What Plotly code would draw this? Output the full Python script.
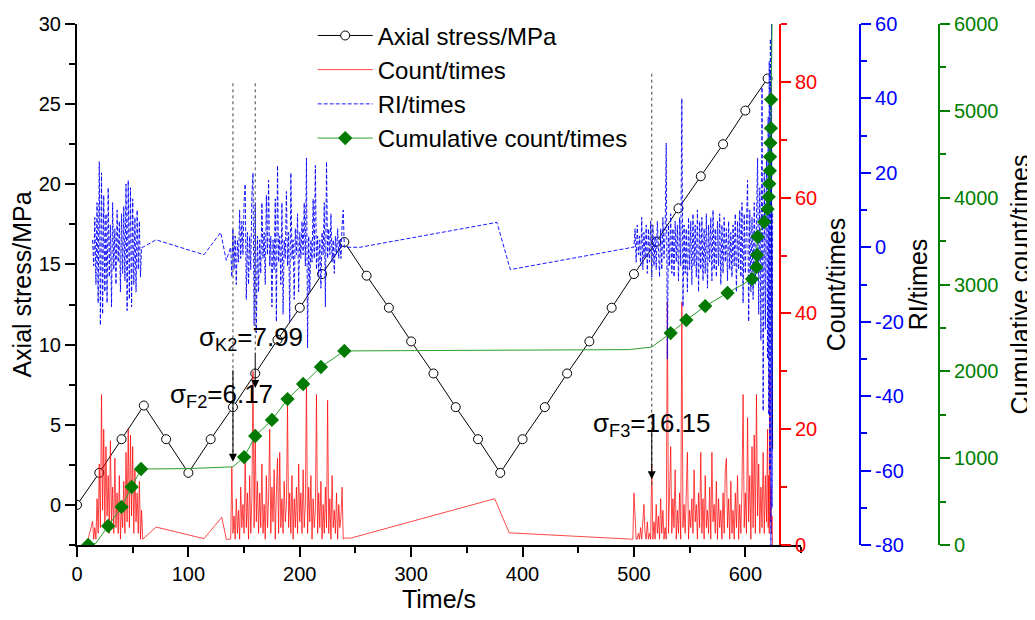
import numpy as np
import plotly.graph_objects as go

FONT = "Arial, Liberation Sans, sans-serif"

# ---- axial stress (MPa), one marker every 20 s ----
stress_t = [0, 20, 40, 60, 80, 100, 120, 140, 160, 180, 200, 220, 240, 260, 280, 300,
            320, 340, 360, 380, 400, 420, 440, 460, 480, 500, 520, 540, 560, 580, 600, 620]
stress = [0, 2.0, 4.1, 6.2, 4.1, 2.0, 4.1, 6.1, 8.2, 10.3, 12.3, 14.4, 16.4, 14.3, 12.3, 10.2,
          8.2, 6.1, 4.1, 2.0, 4.1, 6.1, 8.2, 10.2, 12.3, 14.4, 16.4, 18.5, 20.5, 22.5, 24.6, 26.6]
# failure drop at the end of the test
stress_end_t = [620, 623, 624.5]
stress_end = [26.6, 26.8, 3.5]

# ---- AE count (times) ----
count_a_start = 10          # 1 s samples
count_a = [1, 1.8, 2.5, 3.3, 4.1, 1, 3, 1, 8, 2, 14, 3, 26, 6, 20, 3, 17, 5, 12, 2, 18, 4, 10, 2,
           15, 3, 9, 2, 12, 1, 7, 3, 11, 2, 16, 4, 20, 3, 19, 5, 17, 2, 13, 4, 9, 2, 11, 1, 6]
count_gap1_t = [59, 71, 114, 130, 134, 138]
count_gap1 = [1, 3.1, 1.1, 4.8, 1, 1]
count_b_start = 139
count_b = [13.5, 2, 5, 1, 8, 2, 6, 1, 10, 3, 7, 2, 15, 3, 9, 1, 12, 2, 8, 30, 3, 20, 4, 11, 2,
           9, 3, 14, 2, 7, 1, 12, 3, 8, 20, 2, 10, 4, 13, 1, 9, 15, 2, 16, 3, 8, 2, 11, 4, 7,
           24, 3, 9, 2, 12, 1, 8, 3, 10, 2, 14, 4, 9, 2, 13, 3, 7, 28, 2, 10, 4, 12, 1, 8, 3,
           6, 26, 2, 9, 3, 11, 1, 7, 2, 10, 3, 25, 2, 8, 1, 12, 3, 6, 2, 9, 1, 7, 3, 5, 10, 1]
count_gap2_t = [240, 246, 375, 388, 470, 499]
count_gap2 = [1.2, 1.2, 8, 2.1, 1.2, 1]
count_c_start = 500
count_c = [9, 5, 1, 1, 2, 1, 3, 1, 5, 7, 2, 1, 4, 1, 2, 1, 14, 1, 4, 1, 7, 2, 5, 1, 8, 2, 6, 1,
           3, 1, 42, 2, 9, 17, 2, 8, 3, 13, 1, 6, 2, 9, 1, 42, 3, 7, 2, 10, 16, 1, 6, 3, 8, 2,
           13, 4, 7, 1, 9, 3, 16, 2, 8, 1, 12, 3, 6, 2, 10, 1, 16, 4, 7, 2, 11, 1, 8, 3, 6, 1,
           9, 2, 13, 15, 3, 8, 1, 11, 2, 6, 1, 9, 3, 12, 1, 7, 2, 10, 26, 3, 9, 2, 22, 4, 12, 1,
           17, 3, 19, 2, 26, 5, 14, 2, 10, 3, 16, 2, 12, 4, 20]
count_end_start = 620.5     # 0.5 s samples
count_end = [3, 12, 2, 30, 4, 10, 2, 5, 0]

# ---- RI (times) ----
ri_a_start = 14
ri_a = [2, -5, 8, -10, 12, -15, 23, -21, 20, -18, 14, -12, 9, -15, 16, -8, 6, -16, 12, -6, 5,
        -10, 10, -4, 7, -12, 9, -7, 11, -9, 17, -17, 18, -14, 16, -16, 13, -10, 8, -12, 10, -6,
        7, -8, 0]
ri_gap1_t = [59, 71, 114, 129, 134, 138]
ri_gap1 = [0, 2, -2, 4, -3.5, 0]
ri_b_start = 139
ri_b = [-8, 5, -6, 3, -10, 2, -4, 10, -3, 7, -2, 12, 17, -14, 4, -10, 3, -6, 14, 20, -21, 12,
        -23, 3, -12, 2, -7, 12, -3, 4, -10, 14, -2, 18, -5, 3, -16, 2, -6, 13, -20, 22, -4,
        3, -10, 12, -18, 2, -3, 15, -5, 4, -20, 20, -3, 2, -14, 5, -2, 9, -12, 4, -3, 7,
        -2, 12, -5, 24, -27, 3, -12, 2, -4, 13, -3, 22, -6, 3, -8, 2, -11, 4, -2, 12, -16,
        23, -3, 5, -2, 9, -4, 2, -7, 3, -2, 5, -3, 2, -3, 6, 10]
ri_gap2_t = [240, 254, 377, 389, 499]
ri_gap2 = [0, 0, 6.7, -6, 0]
ri_c_start = 500
ri_c = [0, 5, -4, 6, -2, 3, -5, 8, -6, 4, -3, 6, -7, 5, -4, 7, -8, 6, -5, 3, -6, 7, -4, -8, 5,
        -6, 8, -3, 4, 28, -30, 6, -5, 9, -7, 5, -8, 7, -4, 6, -9, 8, -5, 40, -16, 6, -7, 5, -12,
        8, -6, 7, -10, 9, -5, 6, -8, 10, -12, 7, -6, 8, -9, 5, -7, 9, -11, 6, -4, 8, -9, 10, -6,
        5, -8, 7, -5, 9, -10, 6, -7, 8, -4, 5, -9, 7, -6, 4, -8, 6, -5, 9, -12, 7, -6, 10, -8,
        12, -15, 9, -7, 11, 18, -20, 10, -12, 8, -14, 12, -10, 15, 24, -18, 16, -25, 43, -44,
        20, -22, 25, -30]
ri_end_start = 620.5
ri_end = [35, -45, 50, -60, 56, -80, 60, -70, 10]

# ---- cumulative count (times) ----
cum_t = [10, 17, 28, 40, 49, 57.5, 100, 140, 150, 160, 175, 189, 203, 219, 240, 380, 496, 516,
         533, 547, 564, 584, 606, 610, 610.5, 611, 617, 620, 621, 621.5, 622, 622.2, 622.5,
         623, 623.2, 624]
cum = [0, 20, 219, 438, 668, 875, 880, 900, 1013, 1255, 1440, 1680, 1854, 2050, 2235, 2240,
       2250, 2280, 2441, 2590, 2752, 2902, 3063, 3200, 3340, 3550, 3720, 3870, 4010, 4160,
       4310, 4470, 4630, 4800, 5130, 6000]
cum_marked = [1, 0, 1, 1, 1, 1, 0, 0, 1, 1, 1, 1, 1, 1, 1, 0, 0, 0,
              1, 1, 1, 1, 1, 1, 1, 1, 1, 1, 1, 1, 1, 1, 1, 1, 1, 0]

ri_ticks = [-80, -60, -40, -20, 0, 20, 40, 60]


def seg(start, step, vals):
    return list(start + step * np.arange(len(vals)))


count_t = (seg(count_a_start, 1, count_a) + count_gap1_t + seg(count_b_start, 1, count_b)
           + count_gap2_t + seg(count_c_start, 1, count_c) + seg(count_end_start, 0.5, count_end))
count = count_a + count_gap1 + count_b + count_gap2 + count_c + count_end

ri_t = (seg(ri_a_start, 1, ri_a) + ri_gap1_t + seg(ri_b_start, 1, ri_b)
        + ri_gap2_t + seg(ri_c_start, 1, ri_c) + seg(ri_end_start, 0.5, ri_end))
ri = ri_a + ri_gap1 + ri_b + ri_gap2 + ri_c + ri_end

dia_t = [t for t, m in zip(cum_t, cum_marked) if m]
dia_v = [v for v, m in zip(cum, cum_marked) if m]

GREEN_LINE = "#2ca02c"
GREEN_MARK = "#007a00"

fig = go.Figure()

# data traces
fig.add_trace(go.Scatter(x=count_t, y=count, mode="lines", yaxis="y2", name="Count/times",
                         line=dict(color="rgba(255,0,0,0.9)", width=0.8), legendrank=2))
fig.add_trace(go.Scatter(x=ri_t, y=ri, mode="lines", yaxis="y3", name="RI/times",
                         line=dict(color="#0000ff", width=0.9, dash="4px,2px"), legendrank=3))
fig.add_trace(go.Scatter(x=stress_end_t, y=stress_end, mode="lines", yaxis="y",
                         line=dict(color="black", width=1), showlegend=False))
fig.add_trace(go.Scatter(x=stress_t, y=stress, mode="lines+markers", yaxis="y",
                         name="Axial stress/MPa", legendrank=1,
                         line=dict(color="black", width=1),
                         marker=dict(symbol="circle", size=9, color="white",
                                     line=dict(color="black", width=1))))
fig.add_trace(go.Scatter(x=cum_t, y=cum, mode="lines", yaxis="y4",
                         line=dict(color=GREEN_LINE, width=1), showlegend=False))
fig.add_trace(go.Scatter(x=dia_t, y=dia_v, mode="markers", yaxis="y4", showlegend=False,
                         marker=dict(symbol="diamond", size=11, color=GREEN_MARK)))
# legend entry for the cumulative curve
fig.add_trace(go.Scatter(x=[None], y=[None], mode="lines+markers", yaxis="y4",
                         name="Cumulative count/times", legendrank=4,
                         line=dict(color=GREEN_LINE, width=1),
                         marker=dict(symbol="diamond", size=11, color=GREEN_MARK)))

# characteristic stress markers
for tx, y0, y1 in [(140, 26.3, 3.0), (160, 26.3, 9.6), (516, 26.9, 1.1)]:
    fig.add_shape(type="line", xref="x", yref="y", x0=tx, x1=tx, y0=y0, y1=y1,
                  line=dict(color="#444444", width=1, dash="dot"))

for tx, tip, tail in [(140, 2.7, 8.5), (160, 7.3, 9.6), (516, 1.6, 4.7)]:
    fig.add_annotation(x=tx, y=tip, ax=tx, ay=tail, xref="x", yref="y", axref="x", ayref="y",
                       text="", showarrow=True, arrowhead=2, arrowsize=1.6, arrowwidth=1,
                       arrowcolor="black")

for tx, ty, label in [(130, 6.8, "σ<sub>F2</sub>=6.17"), (156, 10.4, "σ<sub>K2</sub>=7.99"),
                      (516, 5.0, "σ<sub>F3</sub>=16.15")]:
    fig.add_annotation(x=tx, y=ty, xref="x", yref="y", text=label, showarrow=False,
                       font=dict(family=FONT, size=26, color="black"))

tickfont = dict(family=FONT, size=20)
titlefont = dict(family=FONT, size=25, color="black")


def axis_style(color, **kw):
    d = dict(showline=True, linecolor=color, linewidth=2, ticks="outside", ticklen=10,
             tickwidth=2, tickcolor=color, showgrid=False, zeroline=False, automargin=False,
             tickfont=dict(tickfont, color=color))
    d.update(kw)
    return d


# the page adds an 8 px body margin, margins below compensate for it;
# the top margin is zero and the plot area is lowered through the y domain
fig.update_layout(
    width=1035, height=620,
    margin=dict(l=69, r=0, t=0, b=83),
    paper_bgcolor="white", plot_bgcolor="white",
    font=dict(family=FONT, color="black"),
    xaxis=axis_style("black", range=[0, 650], domain=[0, 0.7495], dtick=100, tick0=0,
                     minor=dict(dtick=50, ticklen=6, tickwidth=2, ticks="outside", tickcolor="black"),
                     title=dict(text="Time/s", font=titlefont, standoff=4)),
    yaxis=axis_style("black", range=[-2.5, 30], dtick=5, tick0=0, domain=[0, 0.9702],
                     minor=dict(dtick=2.5, ticklen=6, tickwidth=2, ticks="outside", tickcolor="black"),
                     title=dict(text="Axial stress/MPa", font=titlefont, standoff=8)),
    yaxis2=axis_style("red", overlaying="y", side="right", anchor="free", position=0.7277,
                      range=[0, 90], dtick=20, tick0=0,
                      minor=dict(dtick=10, ticklen=6, tickwidth=2, ticks="outside", tickcolor="red"),
                      title=dict(text="Count/times", font=titlefont, standoff=10)),
    yaxis3=axis_style("blue", overlaying="y", side="right", anchor="free", position=0.8106,
                      range=[-80, 60], tickmode="array", tickvals=ri_ticks,
                      ticktext=[str(v) for v in ri_ticks],
                      minor=dict(dtick=10, ticklen=6, tickwidth=2, ticks="outside", tickcolor="blue"),
                      title=dict(text="RI/times", font=titlefont, standoff=0)),
    yaxis4=axis_style("green", overlaying="y", side="right", anchor="free", position=0.8923,
                      range=[0, 6000], dtick=1000, tick0=0,
                      minor=dict(dtick=500, ticklen=6, tickwidth=2, ticks="outside", tickcolor="green"),
                      title=dict(text="Cumulative count/times", font=titlefont, standoff=13)),
    legend=dict(x=0.244, y=0.99, xanchor="left", yanchor="top", bgcolor="rgba(0,0,0,0)",
                font=dict(family=FONT, size=24, color="black"), itemwidth=55,
                tracegroupgap=0, traceorder="normal"),
)

fig.write_html("out.html")
